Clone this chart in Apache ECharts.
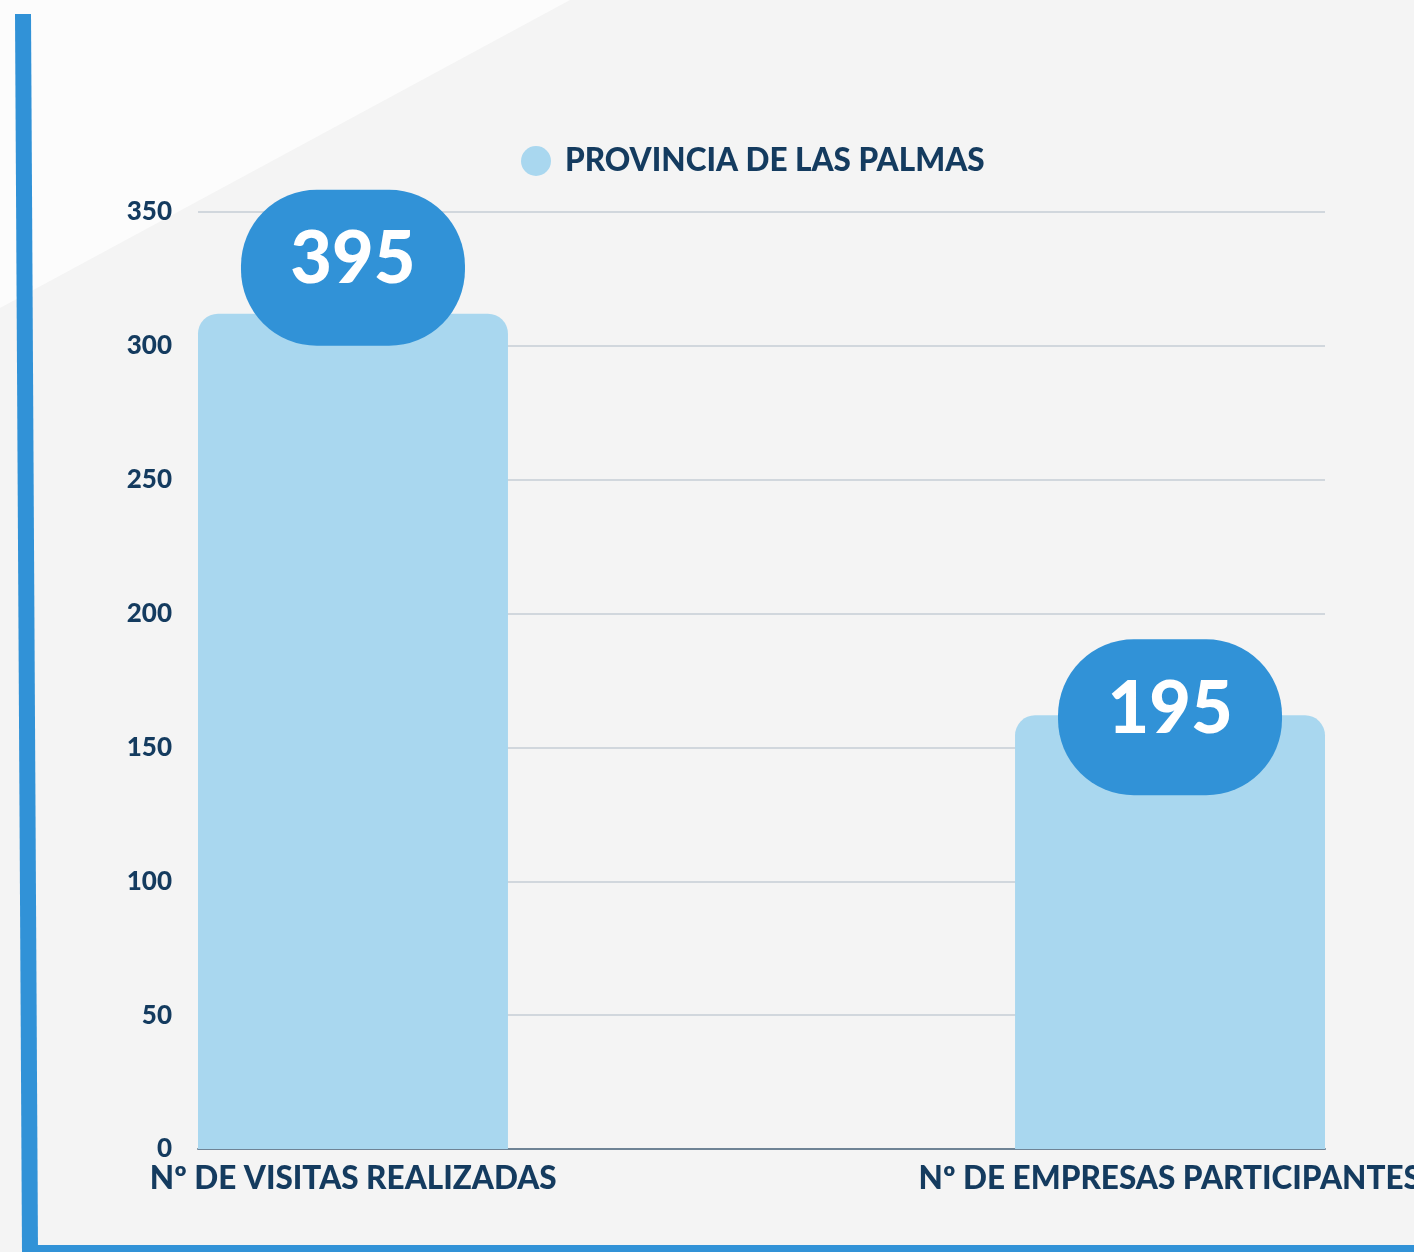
<!DOCTYPE html>
<html>
<head>
<meta charset="utf-8">
<script src="https://cdn.jsdelivr.net/npm/echarts@6/dist/echarts.min.js"></script>
<style>
  html, body { margin: 0; padding: 0; background: #f4f4f4; }
  #chart { width: 1414px; height: 1252px; }
</style>
</head>
<body>
<div id="chart"></div>
<script>
const categories = ['Nº DE VISITAS REALIZADAS', 'Nº DE EMPRESAS PARTICIPANTES']
// bar heights as drawn on the axis
const values = [312, 162]
// numbers printed in the badges
const badgeLabels = ['395', '195']
const seriesName = 'PROVINCIA DE LAS PALMAS'
const yTicks = { min: 0, max: 350, interval: 50 }

const navy = '#143b5f'
const font = 'Lato, "Noto Sans", sans-serif'

// badge sits a bit differently on each bar
const badgeDistance = [-32, -80]

const c = echarts.init(document.getElementById('chart'))

// one series per bar so each one can sit at its own edge of the plot
const series = values.map((v, i) => ({
  name: seriesName,
  type: 'bar',
  barWidth: 310,
  barGap: '-18.2%',
  itemStyle: {
    color: '#a9d7ef',
    borderRadius: [20, 20, 0, 0]
  },
  data: values.map((val, j) =>
    j === i
      ? {
          value: val,
          label: {
            show: true,
            position: 'top',
            distance: badgeDistance[i],
            formatter: badgeLabels[i],
            color: '#fff',
            fontFamily: font,
            fontWeight: 900,
            fontSize: 72,
            backgroundColor: '#3192d7',
            borderRadius: 76,
            width: 224,
            height: 140,
            lineHeight: 140,
            padding: [0, 0, 16, 0]
          }
        }
      : '-'
  )
}))

c.setOption({
  backgroundColor: '#f4f4f4',
  animation: false,
  graphic: [
    {
      type: 'polygon',
      z: -10,
      shape: { points: [[0, 0], [570, 0], [0, 308]] },
      style: { fill: '#fcfcfc' }
    },
    {
      type: 'polygon',
      z: 100,
      shape: { points: [[15, 14], [31, 14], [38, 1252], [22, 1252]] },
      style: { fill: '#3192d7' }
    },
    {
      type: 'rect',
      z: 100,
      shape: { x: 30, y: 1245, width: 1384, height: 7 },
      style: { fill: '#3192d7' }
    }
  ],
  legend: {
    data: [seriesName],
    left: 516,
    top: 140,
    icon: 'circle',
    itemWidth: 48,
    itemHeight: 30,
    itemStyle: { color: '#a9d7ef' },
    textStyle: {
      color: navy,
      fontFamily: font,
      fontWeight: 900,
      fontSize: 31.5
    }
  },
  grid: {
    left: 198,
    right: 89,
    top: 212,
    bottom: 103,
    outerBoundsMode: 'none'
  },
  xAxis: {
    type: 'category',
    data: categories,
    axisTick: { show: false },
    axisLine: { lineStyle: { color: '#6f8395', width: 2 } },
    axisLabel: {
      interval: 0,
      margin: 14,
      formatter: (v, i) => (i === 0 ? '{l|' + v + '}' : '{r|' + v + '}'),
      rich: {
        l: {
          color: navy,
          fontFamily: font,
          fontWeight: 900,
          fontSize: 31.5,
          padding: [0, 253, 0, 0]
        },
        r: {
          color: navy,
          fontFamily: font,
          fontWeight: 900,
          fontSize: 31.5,
          padding: [0, 0, 0, 253]
        }
      }
    }
  },
  yAxis: {
    type: 'value',
    min: yTicks.min,
    max: yTicks.max,
    interval: yTicks.interval,
    axisLine: { show: false },
    axisTick: { show: false },
    splitLine: { lineStyle: { color: '#c6ced6', width: 1.5 } },
    axisLabel: {
      margin: 26,
      padding: [8, 0, 0, 0],
      color: navy,
      fontFamily: font,
      fontWeight: 900,
      fontSize: 26
    }
  },
  series: series
})
</script>
</body>
</html>
